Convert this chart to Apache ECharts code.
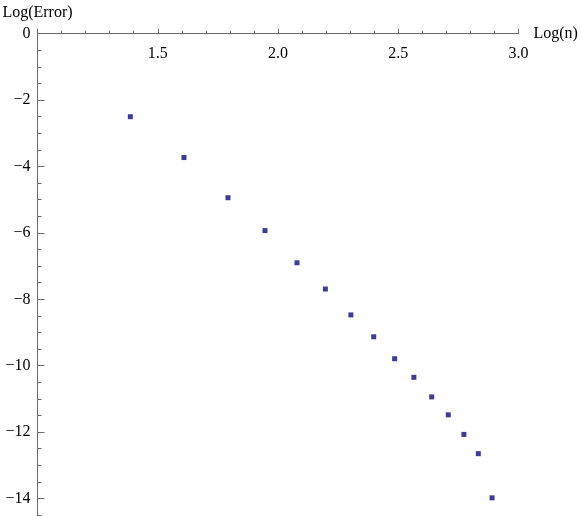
<!DOCTYPE html>
<html>
<head>
<meta charset="utf-8">
<script src="https://cdn.jsdelivr.net/npm/echarts@6/dist/echarts.min.js"></script>
<style>
  html, body { margin: 0; padding: 0; background: #fff; }
  #chart { width: 581px; height: 516px; }
</style>
</head>
<body>
<div id="chart"></div>
<script>
// Log(n) for n = 4..18, and the measured Log(Error)
const logN = [1.386, 1.609, 1.792, 1.946, 2.079, 2.197, 2.303, 2.398, 2.485, 2.565, 2.639, 2.708, 2.773, 2.833, 2.890];
const logErr = [-2.50, -3.73, -4.94, -5.93, -6.90, -7.69, -8.47, -9.13, -9.79, -10.35, -10.94, -11.48, -12.07, -12.65, -13.98];

const axisColor = "#6b6b6b";
const font = "Liberation Serif";

const chart = echarts.init(document.getElementById("chart"));

const option = {
  backgroundColor: "#fff",
  animation: false,
  grid: {
    left: 37.5,
    top: 33.7,
    width: 481,
    height: 531.2, // 16 units at 33.2px each, runs past the bottom edge
    outerBoundsMode: "none",
  },
  xAxis: {
    type: "value",
    position: "top",
    min: 1,
    max: 3,
    interval: 0.5,
    name: "Log(n)",
    nameLocation: "end",
    nameGap: 15,
    nameTextStyle: { fontFamily: font, fontSize: 16, color: "#000" },
    axisLine: { show: true, onZero: false, lineStyle: { color: axisColor, width: 1 } },
    axisTick: { show: true, inside: false, length: 5, lineStyle: { color: axisColor } },
    minorTick: { show: true, splitNumber: 5, length: 3, lineStyle: { color: axisColor } },
    axisLabel: {
      inside: true,
      margin: 12,
      showMinLabel: false,
      fontFamily: font,
      fontSize: 16,
      color: "#000",
      formatter: (v) => v.toFixed(1),
    },
    splitLine: { show: false },
  },
  yAxis: {
    type: "value",
    min: -16,
    max: 0,
    interval: 2,
    name: "Log(Error)",
    nameLocation: "end",
    nameGap: 13,
    nameTextStyle: { fontFamily: font, fontSize: 16, color: "#000" },
    axisLine: { show: true, onZero: false, lineStyle: { color: axisColor, width: 1 } },
    axisTick: { show: true, inside: true, length: 7, lineStyle: { color: axisColor } },
    minorTick: { show: true, splitNumber: 4, length: 4, lineStyle: { color: axisColor } },
    axisLabel: {
      margin: 7,
      fontFamily: font,
      fontSize: 16,
      color: "#000",
      formatter: (v) => (v === 0 ? "0" : "\u2212" + Math.abs(v)),
    },
    splitLine: { show: false },
  },
  series: [
    {
      type: "scatter",
      data: logN.map((x, i) => [x, logErr[i]]),
      symbol: "rect",
      symbolSize: 5,
      itemStyle: { color: "#3d3d99", opacity: 1 },
    },
  ],
};

chart.setOption(option);
</script>
</body>
</html>
